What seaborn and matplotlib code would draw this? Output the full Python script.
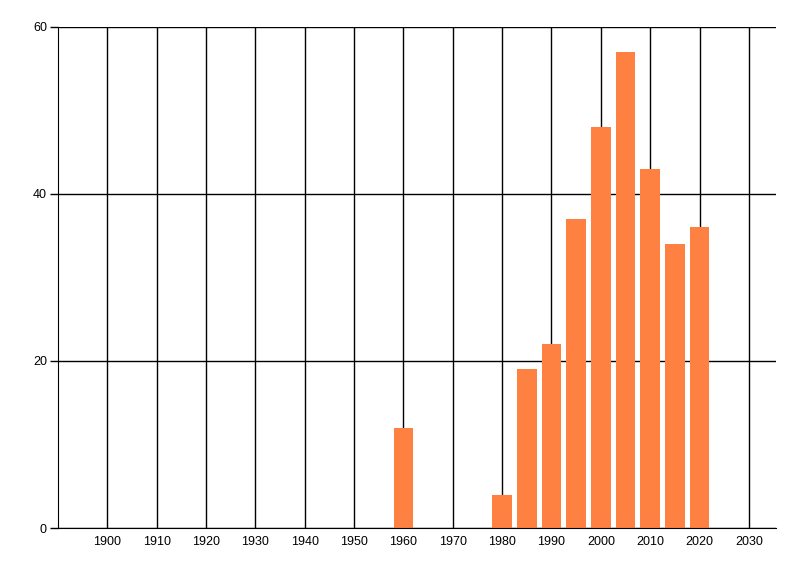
import numpy as np
import pandas as pd
import matplotlib
matplotlib.use("Agg")
import matplotlib.pyplot as plt
import seaborn as sns

# dados
anos = [1960, 1980, 1985, 1990, 1995, 2000, 2005, 2010, 2015, 2020]
total = [12, 4, 19, 22, 37, 48, 57, 43, 34, 36]
ticks_x = list(range(1900, 2031, 10))
ticks_y = [0, 20, 40, 60]

df = pd.DataFrame({"ano": anos, "total": total})

sns.set_style("white")
plt.rcParams["font.family"] = ["Liberation Sans", "DejaVu Sans"]

fig = plt.figure(figsize=(8, 5.76), dpi=100)
ax = fig.add_axes([0.0725, 0.0833, 0.8975, 0.87])

sns.barplot(data=df, x="ano", y="total", native_scale=True, width=0.8,
            color="#FF8142", saturation=1, linewidth=0, edgecolor="none", ax=ax)

ax.set_xlim(1890, 2035.5)
ax.set_ylim(0, 60)
ax.set_xticks(ticks_x)
ax.set_yticks(ticks_y)
ax.set_xlabel("")
ax.set_ylabel("")

ax.set_axisbelow(True)
ax.grid(True, color="black", linewidth=1)
for lado in ["top", "right"]:
    ax.spines[lado].set_visible(False)
ax.spines["left"].set_color("black")
ax.spines["bottom"].set_color("black")

ax.tick_params(axis="x", length=0, pad=6, labelsize=9, colors="black")
ax.tick_params(axis="y", length=6, width=1, pad=2, labelsize=9, colors="black", left=True)

fig.savefig("out.png", dpi=100)
